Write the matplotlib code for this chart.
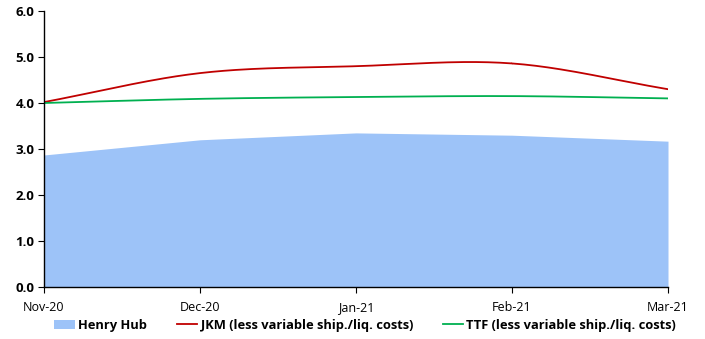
import matplotlib
matplotlib.use("Agg")
import matplotlib.pyplot as plt
import numpy as np
from matplotlib.patches import Patch
from matplotlib.lines import Line2D

months = ["Nov-20", "Dec-20", "Jan-21", "Feb-21", "Mar-21"]
henry_hub = [2.87, 3.20, 3.35, 3.30, 3.17]
jkm = [4.02, 4.65, 4.80, 4.86, 4.30]
ttf = [4.00, 4.09, 4.13, 4.15, 4.10]


def smooth(x, y, n=40):
    # catmull-rom curve through the points, like a smoothed line in Excel
    x = np.asarray(x, float)
    y = np.asarray(y, float)
    px = np.concatenate([[2 * x[0] - x[1]], x, [2 * x[-1] - x[-2]]])
    py = np.concatenate([[2 * y[0] - y[1]], y, [2 * y[-1] - y[-2]]])
    xs, ys = [], []
    t = np.linspace(0, 1, n)
    for i in range(1, len(px) - 2):
        for p, out in ((px, xs), (py, ys)):
            p0, p1, p2, p3 = p[i - 1], p[i], p[i + 1], p[i + 2]
            out.append(0.5 * (2 * p1 + (-p0 + p2) * t
                              + (2 * p0 - 5 * p1 + 4 * p2 - p3) * t ** 2
                              + (-p0 + 3 * p1 - 3 * p2 + p3) * t ** 3))
    return np.concatenate(xs), np.concatenate(ys)


plt.rcParams['font.family'] = ['Open Sans', 'DejaVu Sans']

fig = plt.figure(figsize=(7.05, 3.39), dpi=100)
ax = fig.add_axes([44 / 705, 1 - 287 / 339, 624 / 705, 276 / 339])

x = np.arange(len(months))
ax.fill_between(x, henry_hub, 0, color='#9DC3F8', linewidth=0)
sx, sy = smooth(x, jkm)
ax.plot(sx, sy, color='#C00000', linewidth=1.3)
sx, sy = smooth(x, ttf)
ax.plot(sx, sy, color='#00B050', linewidth=1.3)

ax.set_xlim(0, len(months) - 1)
ax.set_ylim(0, 6)
ax.set_yticks(np.arange(0, 6.1, 1.0))
ax.set_yticklabels(["%.1f" % v for v in np.arange(0, 6.1, 1.0)],
                   fontweight='bold', fontsize=9.5)
ax.set_xticks(x)
ax.set_xticklabels(months, fontsize=9)
ax.tick_params(axis='x', length=4, pad=6)
ax.tick_params(axis='y', length=4, pad=3)

ax.spines['right'].set_color('none')
ax.spines['top'].set_color('none')
ax.spines['left'].set_linewidth(1.0)
ax.spines['bottom'].set_linewidth(1.0)

handles = [Patch(facecolor='#9DC3F8', edgecolor='none'),
           Line2D([0], [0], color='#C00000', linewidth=1.3),
           Line2D([0], [0], color='#00B050', linewidth=1.3)]
labels = ["Henry Hub", "JKM (less variable ship./liq. costs)",
          "TTF (less variable ship./liq. costs)"]
fig.legend(handles, labels, loc='center', bbox_to_anchor=(0.518, 0.04),
           ncol=3, frameon=False, prop={'weight': 'bold', 'size': 9.3},
           handlelength=1.6, handletextpad=0.25, columnspacing=2.3)

fig.savefig("out.png", dpi=100)
